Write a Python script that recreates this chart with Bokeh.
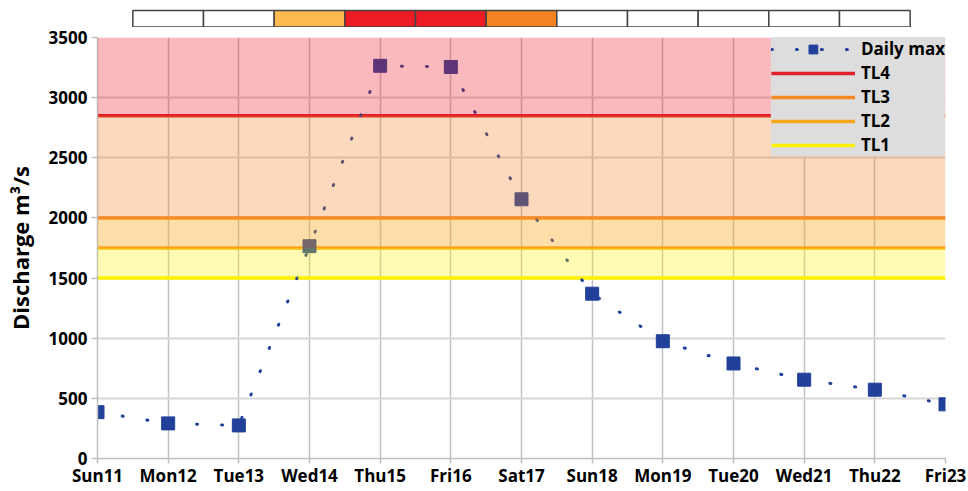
from bokeh.plotting import figure
from bokeh.models import Range1d, FixedTicker, BoxAnnotation, Legend, LegendItem
from bokeh.layouts import column
from bokeh.embed import file_html
from bokeh.resources import INLINE

# ---- data ----
days = ["Sun11", "Mon12", "Tue13", "Wed14", "Thu15", "Fri16", "Sat17",
        "Sun18", "Mon19", "Tue20", "Wed21", "Thu22", "Fri23"]
daily_max = [385, 292, 275, 1765, 3265, 3255, 2155, 1370, 975, 790, 655, 572, 450]
tl_names = ["TL1", "TL2", "TL3", "TL4"]
tl_levels = [1500, 1750, 2000, 2850]
y_ticks = [0, 500, 1000, 1500, 2000, 2500, 3000, 3500]
bar_first, bar_last = 1, 11   # alert boxes from Mon12 to Thu22

# ---- styles ----
FONT = "Open Sans"
BLUE = "#21409A"
tl_line_colors = ["#FFF200", "#F8A51E", "#F58A25", "#E0202A"]
band_colors = ["#FFF200", "#FAA61A", "#F58220", "#EE1C24"]
band_alphas = [0.3, 0.38, 0.3, 0.3]
bar_colors = ["#FFFFFF", "#FFF200", "#FDB94E", "#F58220", "#ED1C24"]

x = list(range(len(days)))
xr = Range1d(x[0], x[-1])
ML, MR = 97, 23
W = 968

# ---- main figure ----
p = figure(width=W, height=462, x_range=xr, y_range=Range1d(0, 3500),
           output_backend="svg", toolbar_location=None,
           min_border_left=ML, min_border_right=MR, min_border_top=10, min_border_bottom=0)
p.outline_line_color = None
p.background_fill_color = "white"

p.xaxis.ticker = FixedTicker(ticks=x)
p.xaxis.major_label_overrides = {i: d for i, d in enumerate(days)}
p.yaxis.ticker = FixedTicker(ticks=y_ticks)
p.xgrid.ticker = FixedTicker(ticks=x)
p.ygrid.ticker = FixedTicker(ticks=y_ticks)
p.xgrid.grid_line_color = "#C2C2C2"
p.xgrid.grid_line_width = 1.5
p.ygrid.grid_line_color = "#D6D6D6"
p.ygrid.grid_line_width = 2

for ax in (p.xaxis, p.yaxis):
    ax.axis_line_color = "#BFBFBF"
    ax.axis_line_width = 1.5
    ax.major_tick_line_color = "#BFBFBF"
    ax.major_tick_line_width = 1.5
    ax.major_tick_in = 0
    ax.minor_tick_line_color = None
    ax.major_label_text_font = FONT
    ax.major_label_text_font_style = "bold"
    ax.major_label_text_font_size = "17px"
    ax.major_label_text_color = "black"
p.yaxis.major_tick_out = 6
p.xaxis.major_tick_out = 5
p.yaxis.major_label_standoff = 4
p.xaxis.major_label_standoff = 0
p.yaxis.axis_label = "Discharge m³/s"
p.yaxis.axis_label_text_font = FONT
p.yaxis.axis_label_text_font_style = "bold"
p.yaxis.axis_label_text_font_size = "22px"
p.yaxis.axis_label_text_color = "black"
p.yaxis.axis_label_standoff = 11

# threshold lines
tl_renderers = []
for lvl, col in zip(tl_levels, tl_line_colors):
    r = p.line([x[0], x[-1]], [lvl, lvl], line_color=col, line_width=3.5)
    tl_renderers.append(r)

# series
line_r = p.line(x, daily_max, line_color=BLUE, line_width=3, line_dash="1 24", line_cap="round")
sq_r = p.scatter(x, daily_max, marker="square", size=13, fill_color=BLUE, line_color=BLUE)

# translucent alert bands (overlaying)
bounds = tl_levels + [None]
for i in range(len(tl_levels)):
    kw = dict(bottom=bounds[i], fill_color=band_colors[i], fill_alpha=band_alphas[i], line_color=None)
    if bounds[i + 1] is not None:
        kw["top"] = bounds[i + 1]
    p.add_layout(BoxAnnotation(**kw))

items = [LegendItem(label="Daily max", renderers=[line_r, sq_r])]
for name, r in reversed(list(zip(tl_names, tl_renderers))):
    items.append(LegendItem(label=name, renderers=[r]))
legend = Legend(items=items, location="top_right", margin=0, glyph_width=84, glyph_height=22,
                label_height=22, spacing=1, padding=4, label_standoff=6,
                background_fill_color="#DDDDDD", background_fill_alpha=1,
                border_line_color=None, label_text_font=FONT, label_text_font_style="bold",
                label_text_font_size="17px", label_text_color="black")
p.add_layout(legend)

# ---- alert bar figure ----
t = figure(width=W, height=27, x_range=xr, y_range=Range1d(-0.03, 1.606),
           output_backend="svg", toolbar_location=None,
           x_axis_location=None, y_axis_location=None,
           min_border_left=ML, min_border_right=MR, min_border_top=0, min_border_bottom=0)
t.grid.visible = False
t.outline_line_color = None

def level_of(v):
    lv = 0
    for i, th in enumerate(tl_levels):
        if v >= th:
            lv = i + 1
    return lv

bx = x[bar_first:bar_last + 1]
bcol = [bar_colors[level_of(daily_max[i])] for i in bx]
t.quad(left=[i - 0.5 for i in bx], right=[i + 0.5 for i in bx], bottom=0, top=1,
       fill_color=bcol, line_color="#444444", line_width=1.5)

layout = column(t, p, spacing=0)
open("out.html", "w").write(file_html(layout, INLINE))
